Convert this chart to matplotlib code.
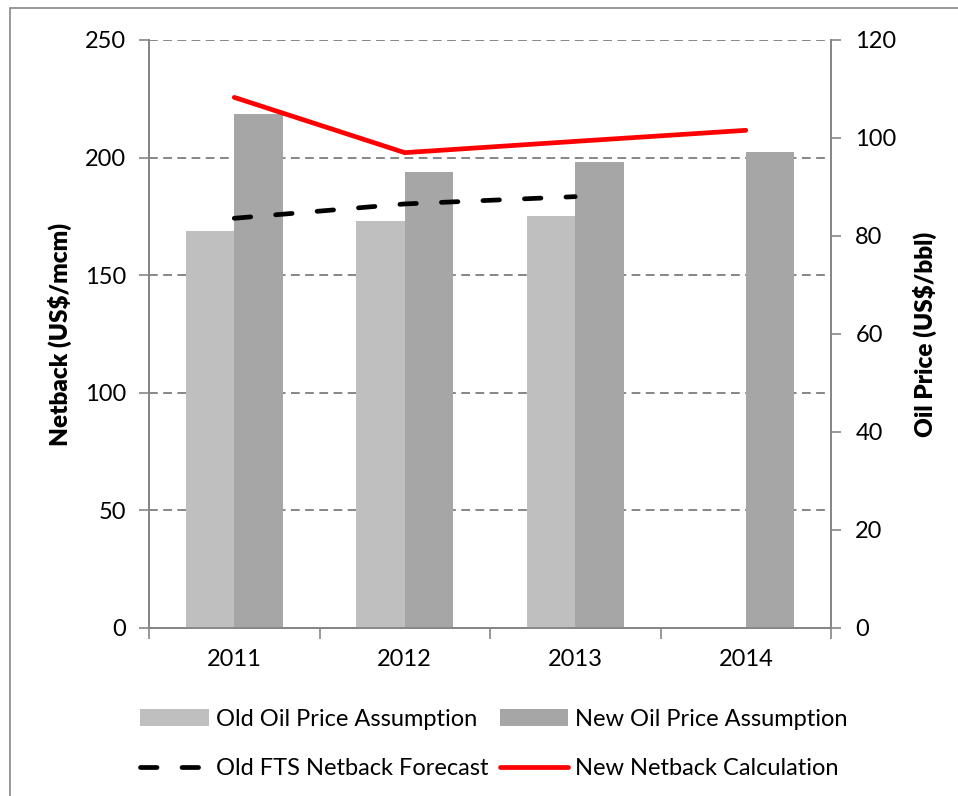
import matplotlib
matplotlib.use("Agg")
import matplotlib.pyplot as plt
from matplotlib.patches import Rectangle
import numpy as np

# data
years = ["2011", "2012", "2013", "2014"]
old_oil_price = [81.0, 83.1, 84.1, np.nan]      # US$/bbl, right axis
new_oil_price = [105.0, 93.1, 95.0, 97.1]       # US$/bbl, right axis
old_fts_netback = [174.2, 180.3, 183.4, np.nan]  # US$/mcm, left axis
new_netback = [225.6, 202.1, 206.9, 211.6]      # US$/mcm, left axis

GRID = "#868686"
plt.rcParams["font.family"] = ["Lato", "DejaVu Sans"]
plt.rcParams["font.size"] = 17

W, H = 958, 796
fig = plt.figure(figsize=(W / 100, H / 100), dpi=100)

# plot area in pixels: x 149..831, y 40..628
ax = fig.add_axes([149 / W, 1 - 628 / H, (831 - 149) / W, (628 - 40) / H])
ax2 = ax.twinx()   # bars, oil price
ax3 = ax.twinx()   # lines, netback

x = np.arange(len(years))
bw = 0.283

# left axis: netback, grid
ax.set_ylim(0, 250)
ax.set_yticks(range(0, 251, 50))
ax.set_xlim(-0.5, 3.5)
ax.yaxis.grid(True, color=GRID, linestyle=(0, (4.5, 2.8)), linewidth=1.4)
ax.set_axisbelow(True)
ax.set_ylabel("Netback (US$/mcm)", fontweight="heavy", fontsize=17.5, labelpad=9)

# bars on the right axis
ax2.bar(x - bw / 2, old_oil_price, bw, color="#BFBFBF", label="Old Oil Price Assumption")
ax2.bar(x + bw / 2, new_oil_price, bw, color="#A6A6A6", label="New Oil Price Assumption")
ax2.set_ylim(0, 120)
ax2.set_yticks(range(0, 121, 20))
ax2.set_ylabel("Oil Price (US$/bbl)", fontweight="heavy", fontsize=17.5, labelpad=12)

# lines on netback scale
ax3.set_ylim(ax.get_ylim())
ax3.plot(x, old_fts_netback, color="black", lw=3.4, dashes=(3.5, 5.3),
         dash_capstyle="round", label="Old FTS Netback Forecast")
ax3.plot(x, new_netback, color="#FF0000", lw=3.4, solid_capstyle="round",
         label="New Netback Calculation")
ax3.axis("off")

# category ticks at boundaries, labels at centres
ax.set_xticks(np.arange(-0.5, 4, 1))
ax.set_xticklabels([])
ax.set_xticks(x, minor=True)
ax.set_xticklabels(years, minor=True)
ax.tick_params(axis="x", which="minor", length=0, pad=15)
ax.tick_params(axis="x", which="major", length=8, width=1.2, color=GRID, direction="out")
ax.tick_params(axis="y", length=7, width=1.2, color=GRID, pad=9.5)
ax2.tick_params(axis="y", length=7, width=1.2, color=GRID, pad=10.5)

for a in (ax, ax2):
    a.spines["top"].set_visible(False)
    for s in ("left", "right", "bottom"):
        a.spines[s].set_color(GRID)
        a.spines[s].set_linewidth(1.3)

h2, l2 = ax2.get_legend_handles_labels()
h3, l3 = ax3.get_legend_handles_labels()
handles = [h2[0], h3[0], h2[1], h3[1]]
labels = [l2[0], l3[0], l2[1], l3[1]]
fig.legend(handles, labels, ncol=2, loc="center", bbox_to_anchor=(494 / W, 1 - 744 / H),
           frameon=False, fontsize=17, handlelength=2.9, handletextpad=0.3,
           columnspacing=0.5, labelspacing=1.2)

# chart-area border (left and top visible in the reference)
fig.add_artist(Rectangle((10 / W, -0.1), 1.2, 1.1 - 8 / H, transform=fig.transFigure,
                         fill=False, edgecolor=GRID, lw=1.2))

fig.savefig("out.png", dpi=100)
